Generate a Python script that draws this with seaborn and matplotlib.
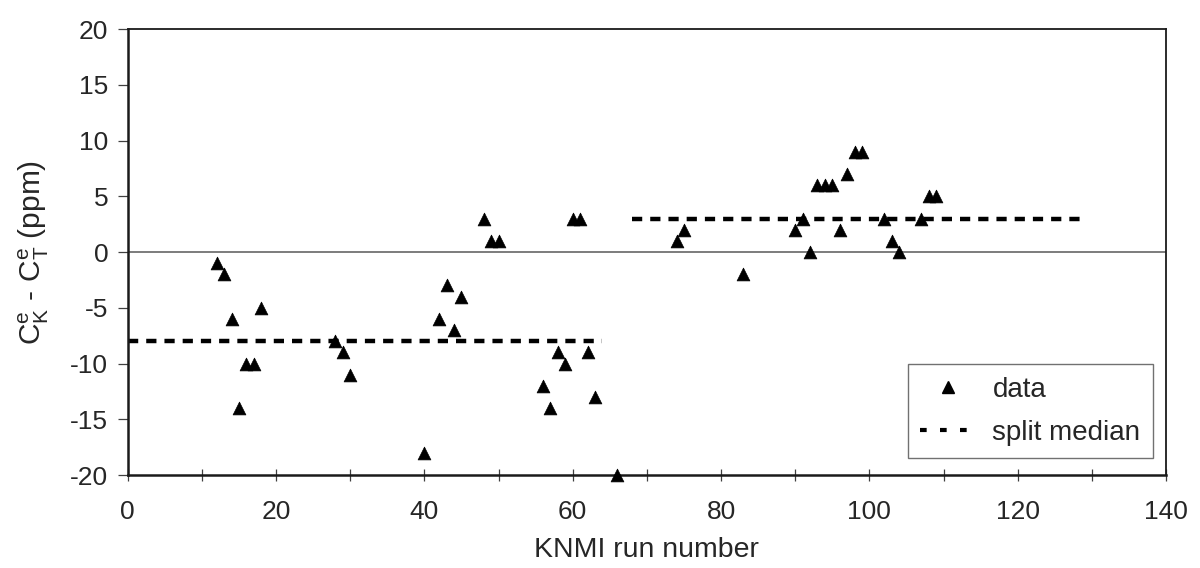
import matplotlib
matplotlib.use("Agg")
import matplotlib.pyplot as plt
import seaborn as sns
import pandas as pd
import numpy as np
from matplotlib.lines import Line2D

# ---- data ----
run_number = [12, 13, 14, 15, 16, 17, 18, 28, 29, 30, 40, 42, 43, 44, 45, 48, 49, 50,
              56, 57, 58, 59, 60, 61, 62, 63, 66, 74, 75, 83, 90, 91, 92, 93, 94, 95,
              96, 97, 98, 99, 102, 103, 104, 107, 108, 109]
difference = [-1, -2, -6, -14, -10, -10, -5, -8, -9, -11, -18, -6, -3, -7, -4, 3, 1, 1,
              -12, -14, -9, -10, 3, 3, -9, -13, -20, 1, 2, -2, 2, 3, 0, 6, 6, 6,
              2, 7, 9, 9, 3, 1, 0, 3, 5, 5]
median_start = [0, 68]
median_end = [64, 129]
median_value = [-8, 3]
x_ticks = [0, 20, 40, 60, 80, 100, 120, 140]
y_ticks = [-20, -15, -10, -5, 0, 5, 10, 15, 20]

df = pd.DataFrame({"run": run_number, "diff": difference})
med_rows = []
for i, (s, e, v) in enumerate(zip(median_start, median_end, median_value)):
    med_rows.append({"run": s, "diff": v, "seg": i})
    med_rows.append({"run": e, "diff": v, "seg": i})
med = pd.DataFrame(med_rows)

sns.set_theme(style="white")
plt.rcParams["font.family"] = ["Liberation Sans", "DejaVu Sans"]
plt.rcParams["mathtext.fontset"] = "custom"
plt.rcParams["mathtext.rm"] = "Liberation Sans"
plt.rcParams["mathtext.it"] = "Liberation Sans"
plt.rcParams["mathtext.bf"] = "Liberation Sans"

fig = plt.figure(figsize=(12, 5.68), dpi=100)
ax = fig.add_axes([0.1064, 0.1637, 0.8653, 0.7852])

ax.axhline(0, color="0.35", lw=1.1, zorder=1)

for seg, sub in med.groupby("seg"):
    sns.lineplot(data=sub, x="run", y="diff", ax=ax, color="black", lw=3.2,
                 dashes=False, legend=False, zorder=2)
for line in ax.get_lines()[1:]:
    line.set_dashes((2.3, 1.8))

sns.scatterplot(data=df, x="run", y="diff", ax=ax, marker="^", s=85,
                color="black", edgecolor="black", linewidth=0.5, zorder=3,
                legend=False, clip_on=False)

ax.set_xlim(0, 140)
ax.set_ylim(-20, 20)
ax.set_xticks(np.arange(0, 141, 10), minor=False)
ax.set_xticklabels([str(t) if t in x_ticks else "" for t in range(0, 141, 10)])
ax.set_yticks(y_ticks)
ax.set_yticklabels([str(t) for t in y_ticks])

ax.tick_params(axis="x", direction="inout", length=8, width=0.9, color="0.25",
               labelsize=19, pad=14, bottom=True)
ax.tick_params(axis="y", direction="out", length=7, width=0.9, color="0.25",
               labelsize=19, pad=7, left=True)
for sp in ax.spines.values():
    sp.set_visible(True)
    sp.set_color("0.1")
    sp.set_linewidth(1.3)
ax.spines["left"].set_linewidth(1.8)
ax.spines["bottom"].set_linewidth(1.8)

ax.set_xlabel("KNMI run number", fontsize=20.5, labelpad=9)
ax.set_ylabel(r"C$_\mathrm{K}^\mathrm{e}$ - C$_\mathrm{T}^\mathrm{e}$ (ppm)", fontsize=21.5, labelpad=14)

handles = [
    Line2D([], [], marker="^", color="black", linestyle="none", markersize=8),
    Line2D([], [], color="black", lw=3, dashes=(1.6, 3.2)),
]
leg = ax.legend(handles, ["data", "split median"], loc="lower right",
                bbox_to_anchor=(1153 / 1200, 1 - 458 / 568),
                bbox_transform=fig.transFigure, borderaxespad=0, fontsize=20,
                frameon=True, fancybox=False, edgecolor="0.3", handlelength=2.0,
                labelspacing=0.6, borderpad=0.45, handletextpad=0.6)
leg.get_frame().set_linewidth(1.0)

fig.savefig("out.png", dpi=100, facecolor="white")
